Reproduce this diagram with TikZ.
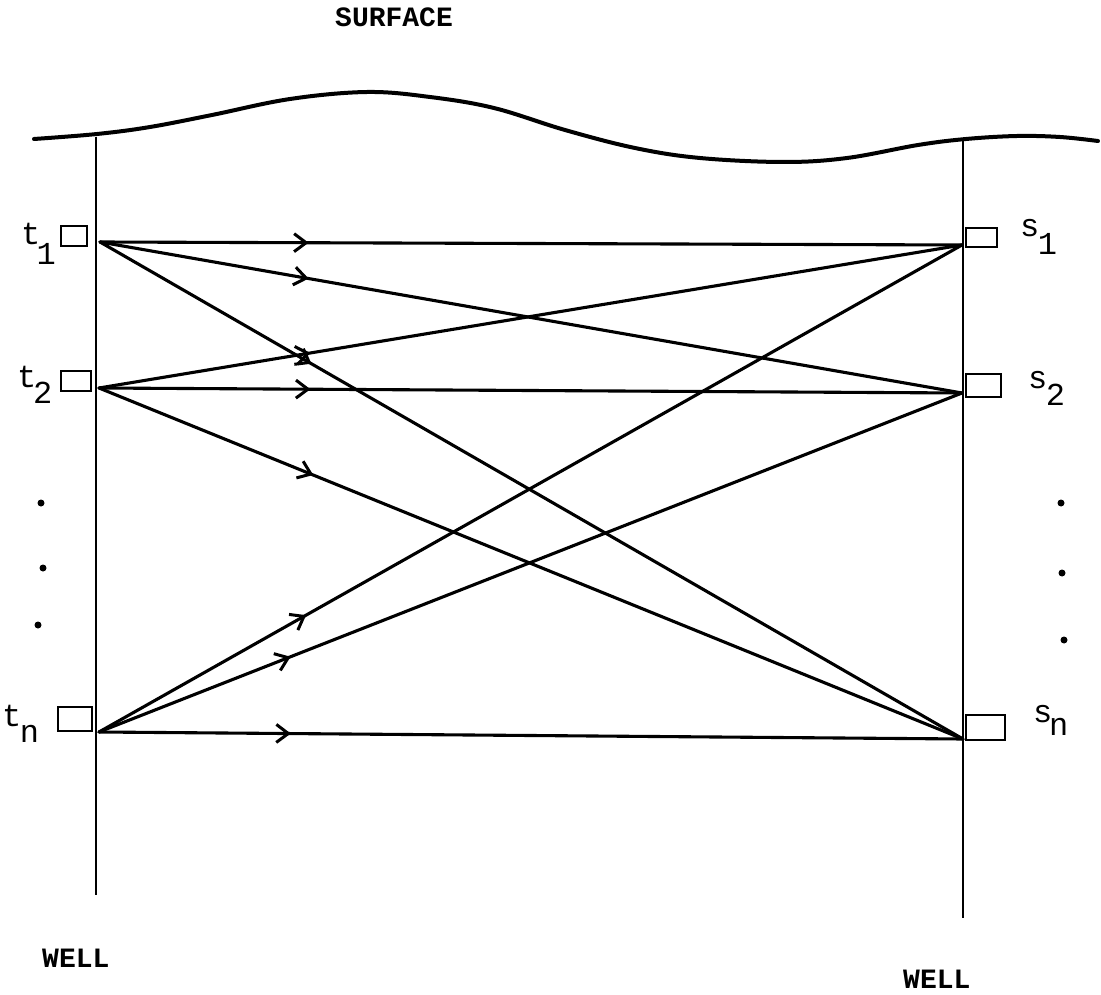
\documentclass[tikz,border=0pt]{standalone}
\usepackage{fontspec}
\newfontfamily\cour{Liberation Mono}
\usetikzlibrary{arrows.meta,decorations.markings}
\begin{document}
\begin{tikzpicture}[x=1pt,y=-1pt,
  wellline/.style={line width=2.8pt},
  surfline/.style={line width=4pt, line cap=round},
  ray/.style={line width=3.1pt, line cap=round, postaction={decorate},
    decoration={markings, mark=at position #1 with {\arrow{Straight Barb[length=12pt,width=18pt,line width=3pt]}}}},
  gauge/.style={draw, line width=2.6pt, inner sep=0pt, rectangle},
  lbl/.style={font=\cour\fontsize{32}{32}\selectfont, inner sep=0pt, anchor=base west},
  captext/.style={font=\cour\bfseries\fontsize{28}{28}\selectfont, inner sep=0pt, anchor=base west},
  dotmark/.style={circle, fill=black, inner sep=0pt, minimum size=7pt},
]
\useasboundingbox (0,0) rectangle (1101,995);

% surface
\draw[surfline] plot[smooth, tension=0.6] coordinates {(34,139) (97,134) (150,127) (212,115) (290,99) (367,92) (430,97) (494,108) (565,130) (635,148) (700,158) (784,162) (847,158) (918,145) (966,139) (1017,136) (1060,137) (1098,141)};
\node[captext] (surf) at (335,27) {SURFACE};

% wells
\coordinate (WLtop) at (96,137);
\coordinate (WLbot) at (96,895);
\coordinate (WRtop) at (963,141);
\coordinate (WRbot) at (963,918);
\draw[wellline] (WLtop) -- (WLbot);
\draw[wellline, line width=2.4pt] (WRtop) -- (WRbot);
\node[captext] (wl) at (42,967) {WELL};
\node[captext] (wr) at (903,988) {WELL};

% gauges
\node[gauge, minimum width=26pt, minimum height=20pt] (bt1) at (74,236) {};
\node[gauge, minimum width=30pt, minimum height=20pt] (bt2) at (76,381) {};
\node[gauge, minimum width=34pt, minimum height=24pt] (btn) at (75,719) {};
\node[gauge, minimum width=31pt, minimum height=19pt] (bs1) at (981.5,237.5) {};
\node[gauge, minimum width=35pt, minimum height=23pt] (bs2) at (983.5,385.5) {};
\node[gauge, minimum width=39pt, minimum height=25pt] (bsn) at (985.5,727.5) {};

% labels
\node[lbl] (lt1) at (21,245) {t\kern-0.12em\raisebox{-0.6em}{1}};
\node[lbl] (lt2) at (17,387) {t\kern-0.1em\raisebox{-0.5em}{2}};
\node[lbl] (ltn) at (2,726) {t\kern-0.05em\raisebox{-0.5em}{n}};
\node[lbl] (ls1) at (1020,237) {s\kern-0.05em\raisebox{-0.55em}{1}};
\node[lbl] (ls2) at (1028,388) {s\kern-0.05em\raisebox{-0.55em}{2}};
\node[lbl] (lsn) at (1033,722) {s\kern-0.1em\raisebox{-0.42em}{n}};

% dots
\node[dotmark] (dl1) at (41,503) {};
\node[dotmark] (dl2) at (43,568) {};
\node[dotmark] (dl3) at (38,625) {};
\node[dotmark] (dr1) at (1061,503) {};
\node[dotmark] (dr2) at (1062,573) {};
\node[dotmark] (dr3) at (1064,640) {};

% ray end points
\coordinate (T1) at (100,242);
\coordinate (T2) at (99,388);
\coordinate (Tn) at (99,732);
\coordinate (S1) at (962,245);
\coordinate (S2) at (962,393);
\coordinate (Sn) at (963,739);

% rays
\draw[ray=0.242] (T1) -- (S1);
\draw[ray=0.242] (T1) -- (S2);
\draw[ray=0.245] (T1) -- (Sn);
\draw[ray=0.245] (T2) -- (S1);
\draw[ray=0.245] (T2) -- (S2);
\draw[ray=0.248] (T2) -- (Sn);
\draw[ray=0.240] (Tn) -- (S1);
\draw[ray=0.222] (Tn) -- (S2);
\draw[ray=0.222] (Tn) -- (Sn);
\end{tikzpicture}
\end{document}
